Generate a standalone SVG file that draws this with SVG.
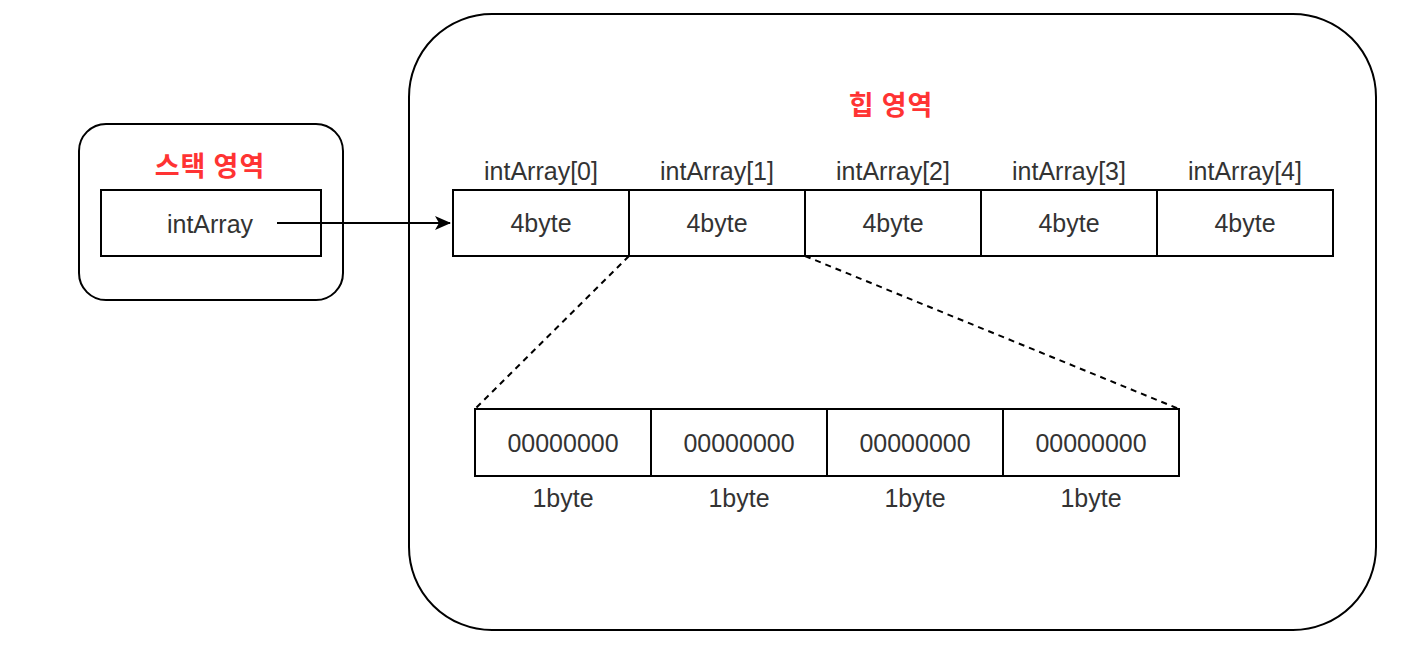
<svg xmlns="http://www.w3.org/2000/svg" width="1402" height="660" viewBox="0 0 1402 660">
<style>
.box{fill:#fff;stroke:#000;stroke-width:2}
.t{font-family:"Liberation Sans",Arial,sans-serif;font-size:25px;fill:#333;text-anchor:middle}
.h{font-family:"Noto Sans CJK KR","Noto Sans",sans-serif;font-size:27px;font-weight:bold;fill:#FF3333;text-anchor:middle;letter-spacing:1px}
.c{stroke:#000;stroke-width:2;fill:none}
.d{stroke:#000;stroke-width:2;fill:none;stroke-dasharray:6 5}
</style>
<defs>
<marker id="arr" markerWidth="16" markerHeight="14" refX="15" refY="7" orient="auto" markerUnits="userSpaceOnUse">
<path d="M0,0 L16,7 L0,14 L4,7 Z" fill="#000"/>
</marker>
</defs>
<rect width="1402" height="660" fill="#fff"/>
<g id="heap">
<rect class="box" x="409" y="14" width="967" height="616" rx="83" ry="83"/>
<text class="h" x="891" y="115">힙 영역</text>
</g>
<g id="stack">
<rect class="box" x="79" y="124" width="264" height="176" rx="27" ry="27"/>
<text class="h" x="210" y="176">스택 영역</text>
<rect class="box" x="101" y="190" width="220" height="66"/>
<text class="t" x="210" y="233">intArray</text>
</g>
<g id="array">
<g id="a0"><rect class="box" x="453" y="190" width="176" height="66"/><text class="t" x="541" y="180">intArray[0]</text><text class="t" x="541" y="232">4byte</text></g>
<g id="a1"><rect class="box" x="629" y="190" width="176" height="66"/><text class="t" x="717" y="180">intArray[1]</text><text class="t" x="717" y="232">4byte</text></g>
<g id="a2"><rect class="box" x="805" y="190" width="176" height="66"/><text class="t" x="893" y="180">intArray[2]</text><text class="t" x="893" y="232">4byte</text></g>
<g id="a3"><rect class="box" x="981" y="190" width="176" height="66"/><text class="t" x="1069" y="180">intArray[3]</text><text class="t" x="1069" y="232">4byte</text></g>
<g id="a4"><rect class="box" x="1157" y="190" width="176" height="66"/><text class="t" x="1245" y="180">intArray[4]</text><text class="t" x="1245" y="232">4byte</text></g>
</g>
<g id="bytes">
<g id="b0"><rect class="box" x="475" y="409" width="176" height="67"/><text class="t" x="563" y="452">00000000</text><text class="t" x="563" y="507">1byte</text></g>
<g id="b1"><rect class="box" x="651" y="409" width="176" height="67"/><text class="t" x="739" y="452">00000000</text><text class="t" x="739" y="507">1byte</text></g>
<g id="b2"><rect class="box" x="827" y="409" width="176" height="67"/><text class="t" x="915" y="452">00000000</text><text class="t" x="915" y="507">1byte</text></g>
<g id="b3"><rect class="box" x="1003" y="409" width="176" height="67"/><text class="t" x="1091" y="452">00000000</text><text class="t" x="1091" y="507">1byte</text></g>
</g>
<g id="connectors">
<line class="c" x1="277" y1="223" x2="450" y2="223" marker-end="url(#arr)"/>
<line class="d" x1="629" y1="256" x2="475" y2="409"/>
<line class="d" x1="805" y1="256" x2="1179" y2="409"/>
</g>
</svg>
